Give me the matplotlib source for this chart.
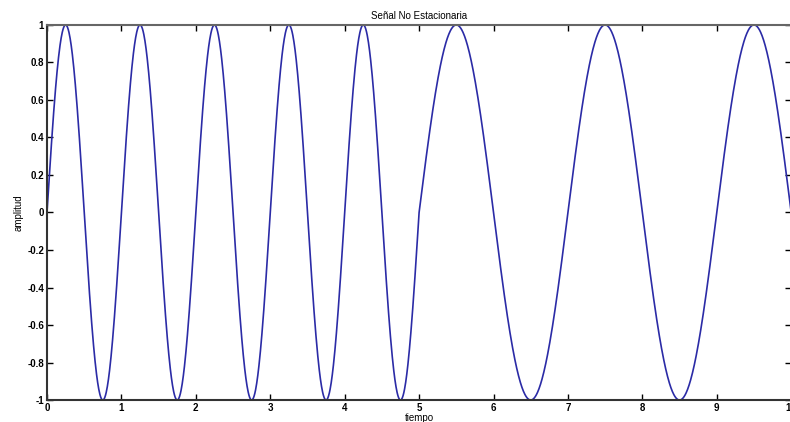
import numpy as np
import matplotlib
matplotlib.use('Agg')
import matplotlib.pyplot as plt

# ## Signal definition
seg_start = [0, 5]          # segment start time
seg_end = [5, 10]           # segment end time
seg_freq = [1.0, 0.5]       # frequency of each segment [Hz]
n_pts = 2000

x_ticks = [0, 1, 2, 3, 4, 5, 6, 7, 8, 9, 10]
y_ticks = [-1, -0.8, -0.6, -0.4, -0.2, 0, 0.2, 0.4, 0.6, 0.8, 1]

t_parts, y_parts = [], []
for a, b, f in zip(seg_start, seg_end, seg_freq):
    t = np.linspace(a, b, n_pts // 2)
    t_parts.append(t)
    y_parts.append(np.sin(2 * np.pi * f * (t - a)))
t = np.concatenate(t_parts)
y = np.concatenate(y_parts)

plt.rcParams['font.family'] = ['Liberation Sans', 'DejaVu Sans']

fig = plt.figure(figsize=(7.9, 4.22), dpi=100)
ax = fig.add_axes([0.0595, 0.052, 0.942, 0.889])
ax.plot(t, y, color='#2b2ba6', lw=1.2)

ax.set_xlim(0, 10)
ax.set_ylim(-1, 1)
ax.set_xticks(x_ticks)
ax.set_yticks(y_ticks)
ax.set_xticklabels([str(v) for v in x_ticks])
ax.set_yticklabels(['{:g}'.format(v) for v in y_ticks])
ax.tick_params(direction='in', length=4, width=1, labelsize=7, top=True, right=True, pad=2)
for lbl in ax.get_xticklabels() + ax.get_yticklabels():
    lbl.set_fontweight('bold')
for s in ax.spines.values():
    s.set_linewidth(1.5)
    s.set_color('#333333')
ax.spines['top'].set_color('#666666')

ax.set_title('Señal No Estacionaria', fontsize=7, pad=4)
ax.set_xlabel('tiempo', fontsize=7, labelpad=0)
ax.set_ylabel('amplitud', fontsize=7, labelpad=3)

plt.savefig('out.png', dpi=100)
plt.close()
